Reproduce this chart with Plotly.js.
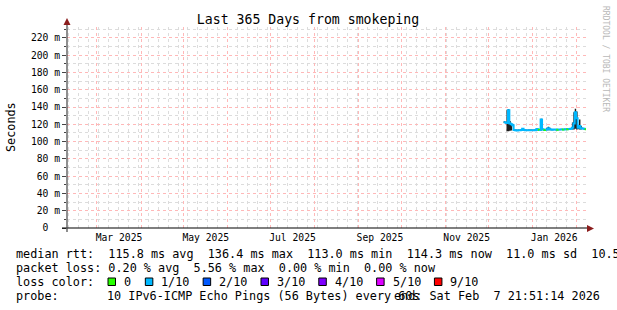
<!DOCTYPE html>
<html><head><meta charset="utf-8">
<script src="https://cdn.plot.ly/plotly-3.0.1.min.js"></script>
<style>html,body{margin:0;padding:0;background:#fff;}#chart{width:617px;height:310px;}</style>
</head><body><div id="chart"></div>
<script>
// ---------- data ----------
const dates = [
 '2025-12-12','2025-12-13','2025-12-14','2025-12-15','2025-12-16','2025-12-17','2025-12-18','2025-12-19','2025-12-20','2025-12-21',
 '2025-12-22','2025-12-23','2025-12-24','2025-12-25','2025-12-26','2025-12-27','2025-12-28','2025-12-29','2025-12-30','2025-12-31',
 '2026-01-01','2026-01-02','2026-01-03','2026-01-04','2026-01-05','2026-01-06','2026-01-07','2026-01-08','2026-01-09','2026-01-10',
 '2026-01-11','2026-01-12','2026-01-13','2026-01-14','2026-01-15','2026-01-16','2026-01-17','2026-01-18','2026-01-19','2026-01-20',
 '2026-01-21','2026-01-22','2026-01-23','2026-01-24','2026-01-25','2026-01-26','2026-01-27','2026-01-28','2026-01-29','2026-01-30',
 '2026-01-31','2026-02-01','2026-02-02','2026-02-03','2026-02-04','2026-02-05','2026-02-06','2026-02-07','2026-02-07 21:51:14'
];
const medianMs = [
 122.5,122.0,121.5,136.4,121.0,120.0,119.0,113.5,113.2,113.0,
 113.2,113.1,113.4,114.8,113.5,113.2,113.1,113.2,113.3,113.2,
 113.1,113.3,113.4,114.6,113.8,113.6,125.5,114.2,113.6,113.8,
 114.0,115.6,114.2,113.9,113.8,114.0,113.9,113.8,114.0,113.9,
 114.1,114.0,114.1,114.2,114.3,114.5,114.6,115.0,116.0,121.0,
 134.0,127.0,116.0,118.0,115.5,115.2,114.8,114.3,114.3
];
const smokeLowMs = [
 121.5,121.0,112.0,112.0,112.5,113.0,118.5,112.8,112.6,112.4,
 112.6,112.5,112.8,113.2,112.9,112.6,112.5,112.6,112.7,112.6,
 112.5,112.7,112.8,113.0,113.2,113.0,113.0,113.4,113.0,113.2,
 113.3,113.3,113.3,113.3,113.2,113.4,113.3,113.2,113.4,113.3,
 113.5,113.4,113.5,113.6,113.7,113.9,114.0,114.2,114.0,114.0,
 115.0,114.0,114.2,114.0,114.0,114.5,114.1,113.6,113.6
];
const smokeHighMs = [
 123.5,123.0,137.0,137.5,124.0,121.0,120.0,114.2,113.9,113.7,
 113.9,113.8,114.1,115.8,114.2,113.9,113.8,113.9,114.0,113.9,
 113.8,114.0,114.1,115.4,114.5,114.3,126.5,115.0,114.3,114.5,
 116.0,117.2,116.2,114.6,114.5,114.7,114.6,114.5,114.7,114.6,
 114.8,114.7,114.8,114.9,115.0,115.2,115.3,115.8,122.0,134.0,
 138.0,135.0,118.0,125.5,118.0,116.0,115.5,115.0,115.0
];
// index into lossLabels for each day (0 = no loss, 1 = up to 1/10)
const lossClass = [
 1,1,1,1,1,1,1,1,1,1,
 1,1,1,1,1,1,1,1,1,1,
 1,1,1,1,0,1,1,1,0,1,
 1,1,1,1,1,1,1,0,1,1,
 1,0,1,1,0,1,1,1,1,1,
 1,1,1,1,1,1,1,0,0
];
const lossLabels = ['0','1/10','2/10','3/10','4/10','5/10','9/10'];
const lossColors = ['#26ff00','#00b8ff','#0059ff','#5e00ff','#7e00ff','#dd00ff','#ff0000'];

const yTickVals = [0,20,40,60,80,100,120,140,160,180,200,220];
const yTickText = ['0\u00a0\u00a0','20 m','40 m','60 m','80 m','100 m','120 m','140 m','160 m','180 m','200 m','220 m'];
const yMinorVals = [10,30,50,70,90,110,130,150,170,190,210,230];
const xLabelVals = ['2025-03-16 12:00','2025-05-16 12:00','2025-07-16 12:00','2025-09-16','2025-11-16','2026-01-16 12:00'];
const xLabelText = ['Mar 2025','May 2025','Jul 2025','Sep 2025','Nov 2025','Jan 2026'];
const xRange = ['2025-02-07 21:51:14','2026-02-07 21:51:14'];

const titleText = 'Last 365 Days from smokeping';
const yTitle = 'Seconds';
const medianLine = 'median rtt:  115.8 ms avg  136.4 ms max  113.0 ms min  114.3 ms now  11.0 ms sd  10.5';
const lossLine = 'packet loss: 0.20 % avg  5.56 % max  0.00 % min  0.00 % now';
const lossColorHead = 'loss color:';
const probeHead = 'probe:';
const probeText = '10 IPv6-ICMP Echo Pings (56 Bytes) every 60s';
const endText = 'end: Sat Feb  7 21:51:14 2026';
const watermark = 'RRDTOOL / TOBI OETIKER';

// ---------- layout geometry ----------
const W = 617, H = 310;
const L = 67, R = 31, T = 27, B = 82;
const PW = W - L - R, PH = H - T - B;
const px = v => (v - L) / PW;
const py = v => (H - B - v) / PH;
const mono = 'DejaVu Sans Mono, monospace';
const nb = s => s.replace(/ /g, '\u00a0');
const FS = 11.8;

// ---------- traces ----------
const traces = [];
traces.push({x: xRange, y: [0, 0], xaxis: 'x2', yaxis: 'y', type: 'scatter', mode: 'markers',
  marker: {opacity: 0, size: 1}, hoverinfo: 'skip', showlegend: false});
traces.push({x: dates, y: smokeLowMs, type: 'scatter', mode: 'lines', line: {width: 0, shape: 'hv'},
  hoverinfo: 'skip', showlegend: false});
traces.push({x: dates, y: smokeHighMs, type: 'scatter', mode: 'lines', line: {width: 0, shape: 'hv'},
  fill: 'tonexty', fillcolor: '#1e1e1e', hoverinfo: 'skip', showlegend: false});
const order = [1, 0, 2, 3, 4, 5, 6];
order.forEach(c => {
  const ys = medianMs.map((v, i) => (lossClass[i] === c || (i > 0 && lossClass[i - 1] === c)) ? v : null);
  if (ys.every(v => v === null)) return;
  traces.push({x: dates, y: ys, type: 'scatter', mode: 'lines', connectgaps: false,
    line: {color: lossColors[c], width: 2, shape: 'hv'}, showlegend: false, hoverinfo: 'skip'});
});

// ---------- annotations & shapes ----------
const ann = [];
const shapes = [];
const txt = (x, y, s, opts) => ann.push(Object.assign({xref: 'paper', yref: 'paper', x: px(x), y: py(y), text: nb(s),
  showarrow: false, xanchor: 'left', yanchor: 'middle', borderpad: 0, font: {family: mono, size: FS, color: '#000'}}, opts || {}));

txt(11, 127, yTitle, {xanchor: 'center', textangle: -90});
txt(15, 254, medianLine);
txt(15, 268, lossLine);
txt(15, 282, lossColorHead);
let bx = 108;
lossLabels.forEach((lab, i) => {
  shapes.push({type: 'rect', xref: 'paper', yref: 'paper', x0: px(bx), x1: px(bx + 7.5), y0: py(278), y1: py(285.5),
    fillcolor: lossColors[i], line: {color: '#000', width: 1}});
  txt(bx + 15, 282, lab);
  bx += 30.5 + lab.length * 6.83;
});
txt(15, 296, probeHead);
txt(106, 296, probeText);
txt(601, 296, endText, {xanchor: 'right'});
txt(606, 59, watermark, {xanchor: 'center', textangle: 90, font: {family: mono, size: 8, color: '#b8b8b8'}});

// axis lines and arrows
shapes.push({type: 'line', xref: 'paper', yref: 'paper', x0: px(62), x1: px(589), y0: 0, y1: 0, line: {color: '#000', width: 1.2}});
shapes.push({type: 'line', xref: 'paper', yref: 'paper', x0: 0, x1: 0, y0: py(232), y1: py(23), line: {color: '#444', width: 1.2}});
shapes.push({type: 'path', xref: 'paper', yref: 'paper',
  path: `M${px(587)},${py(225)} L${px(594)},${py(228.5)} L${px(587)},${py(232)} Z`, fillcolor: '#8b1d1d', line: {width: 0}});
shapes.push({type: 'path', xref: 'paper', yref: 'paper',
  path: `M${px(63.5)},${py(25)} L${px(67)},${py(18)} L${px(70.5)},${py(25)} Z`, fillcolor: '#8b1d1d', line: {width: 0}});

const majorGrid = '#ffb8b8';
const minorGrid = '#dcdcdc';
const layout = {
  width: W, height: H,
  margin: {l: L, r: R, t: T, b: B, pad: 0},
  paper_bgcolor: '#fff', plot_bgcolor: '#fff',
  showlegend: false,
  title: {text: titleText, x: 308 / W, xref: 'container', xanchor: 'center', y: 1 - 19 / H, yanchor: 'middle',
    font: {family: mono, size: 13.2, color: '#000'}},
  xaxis: {type: 'date', range: xRange, showticklabels: false, ticks: '', tick0: '2025-01-01', dtick: 'M1',
    showgrid: true, gridcolor: majorGrid, griddash: 'dot', gridwidth: 1,
    minor: {tick0: '2025-02-09', dtick: 7 * 86400000, showgrid: true, gridcolor: minorGrid, griddash: 'dot', gridwidth: 1},
    zeroline: false, showline: false, fixedrange: true},
  xaxis2: {type: 'date', range: xRange, overlaying: 'x', anchor: 'y', side: 'bottom', tickmode: 'array',
    tickvals: xLabelVals, ticktext: xLabelText, ticks: '', showgrid: false, zeroline: false, showline: false,
    ticklabelstandoff: 2, tickfont: {family: mono, size: 9.7, color: '#000'}},
  yaxis: {range: [0, 232.7], tickmode: 'array', tickvals: yTickVals, ticktext: yTickText,
    ticks: 'outside', ticklen: 4, tickcolor: '#444', tickwidth: 1,
    tickfont: {family: mono, size: 9.7, color: '#000'},
    showgrid: true, gridcolor: majorGrid, griddash: 'dot', gridwidth: 1,
    minor: {tickmode: 'array', tickvals: yMinorVals, showgrid: true, gridcolor: minorGrid, griddash: 'dot', ticks: 'outside', ticklen: 2, tickcolor: '#444'},
    zeroline: false, showline: false, fixedrange: true},
  annotations: ann,
  shapes: shapes
};
Plotly.newPlot('chart', traces, layout, {displayModeBar: false, staticPlot: true});
</script></body></html>
